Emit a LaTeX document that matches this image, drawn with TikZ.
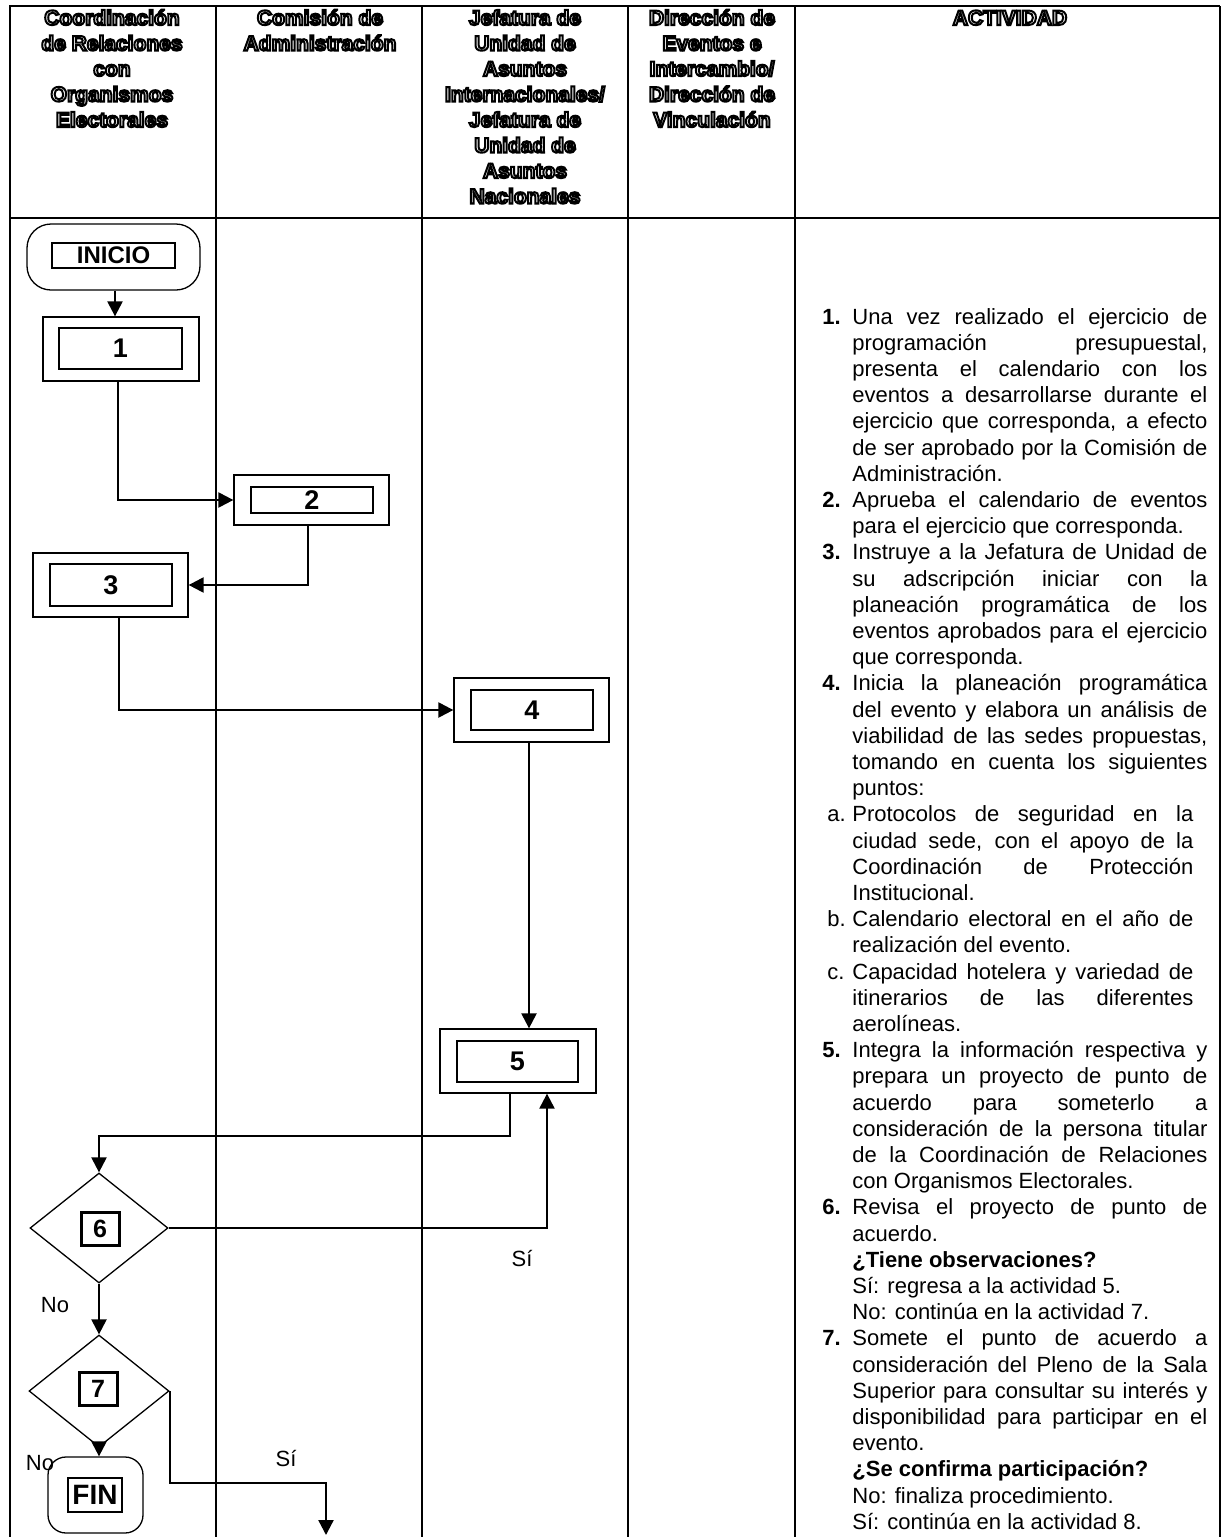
\documentclass[tikz,border=0pt]{standalone}
\usepackage{fontspec}
\setmainfont{Liberation Sans}
\usetikzlibrary{shapes.geometric,arrows.meta,calc}
\newlength\tw \setlength\tw{177.5pt}
\newlength\sw \setlength\sw{170.5pt}
\newlength\ind \setlength\ind{16pt}
\newcommand\lnN[2]{\makebox[\ind][l]{\hspace*{1pt}\textbf{#1}}\makebox[\tw][s]{#2}\par}
\newcommand\lnJ[1]{\hspace*{\ind}\makebox[\tw][s]{#1}\par}
\newcommand\lnL[1]{\hspace*{\ind}#1\par}
\newcommand\lnA[2]{\makebox[\ind][l]{\hspace*{3.5pt}#1}\makebox[\sw][s]{#2}\par}
\newcommand\lnS[1]{\hspace*{\ind}\makebox[\sw][s]{#1}\par}
\newcommand\lnB[1]{\hspace*{\ind}\textbf{#1}\par}
\newcommand\hc[1]{\leavevmode\special{pdf:literal direct 1 Tr 0 G 1.0 w}#1\special{pdf:literal direct 0 Tr}}
\begin{document}
\begin{tikzpicture}[x=0.5pt,y=-0.5pt,
  hdr/.style={anchor=base,inner sep=0pt,font=\fontsize{10.5}{12.75}\selectfont\bfseries},
  outerbox/.style={draw,line width=0.65pt,inner sep=0pt},
  innerbox/.style={draw,line width=1.4pt,inner sep=0pt,font=\fontsize{13.5}{13.5}\selectfont\bfseries},
  dec/.style={draw,diamond,line width=0.65pt,inner sep=0pt},
  decnum/.style={draw,line width=1.5pt,inner sep=0pt,minimum width=19pt,minimum height=16.5pt,font=\fontsize{12.5}{12.5}\selectfont\bfseries},
  term/.style={draw,line width=0.65pt,inner sep=0pt},
  arr/.style={line width=1.15pt,-{Triangle[length=7.5pt,width=7.5pt]}},
  lbl/.style={inner sep=0pt,font=\fontsize{11}{13}\selectfont},
  grid/.style={line width=0.8pt}]
\useasboundingbox (0,0) rectangle (1222,1537);
% table
\draw[line width=1.2pt] (9,6) -- (1220,6);
\draw[line width=1.2pt] (9,218) -- (1220,218);
\foreach \xx in {10,216,422,628,795,1220} \draw[grid] (\xx,6) -- (\xx,1537);
% headers
\node[hdr] (h0) at (112,25) {\parbox[t]{100pt}{\centering\fontsize{10.5}{12.75}\selectfont\bfseries
 \hc{Coordinación}\\\hc{de Relaciones}\\\hc{con}\\\hc{Organismos}\\\hc{Electorales}}};
\node[hdr] (h1) at (320,25) {\parbox[t]{100pt}{\centering\fontsize{10.5}{12.75}\selectfont\bfseries
 \hc{Comisión de}\\\hc{Administración}}};
\node[hdr] (h2) at (525,25) {\parbox[t]{100pt}{\centering\fontsize{10.5}{12.75}\selectfont\bfseries
 \hc{Jefatura de}\\\hc{Unidad de}\\\hc{Asuntos}\\\hc{Internacionales/}\\\hc{Jefatura de}\\\hc{Unidad de}\\\hc{Asuntos}\\\hc{Nacionales}}};
\node[hdr] (h3) at (712,25) {\parbox[t]{82pt}{\centering\fontsize{10.5}{12.75}\selectfont\bfseries
 \hc{Dirección de}\\\hc{Eventos e}\\\hc{Intercambio/}\\\hc{Dirección de}\\\hc{Vinculación}}};
\node[hdr] (h4) at (1010,25) {\hc{ACTIVIDAD}};
% activity text
\node[anchor=base west,inner sep=0pt] (act) at (820,324) {\parbox[t]{200pt}{\fontsize{11}{13.1}\selectfont\parindent=0pt\parskip=0pt
\lnN{1.}{Una vez realizado el ejercicio de}
\lnJ{programación presupuestal,}
\lnJ{presenta el calendario con los}
\lnJ{eventos a desarrollarse durante el}
\lnJ{ejercicio que corresponda, a efecto}
\lnJ{de ser aprobado por la Comisión de}
\lnL{Administración.}
\lnN{2.}{Aprueba el calendario de eventos}
\lnL{para el ejercicio que corresponda.}
\lnN{3.}{Instruye a la Jefatura de Unidad de}
\lnJ{su adscripción iniciar con la}
\lnJ{planeación programática de los}
\lnJ{eventos aprobados para el ejercicio}
\lnL{que corresponda.}
\lnN{4.}{Inicia la planeación programática}
\lnJ{del evento y elabora un análisis de}
\lnJ{viabilidad de las sedes propuestas,}
\lnJ{tomando en cuenta los siguientes}
\lnL{puntos:}
\lnA{a.}{Protocolos de seguridad en la}
\lnS{ciudad sede, con el apoyo de la}
\lnS{Coordinación de Protección}
\lnL{Institucional.}
\lnA{b.}{Calendario electoral en el año de}
\lnL{realización del evento.}
\lnA{c.}{Capacidad hotelera y variedad de}
\lnS{itinerarios de las diferentes}
\lnL{aerolíneas.}
\lnN{5.}{Integra la información respectiva y}
\lnJ{prepara un proyecto de punto de}
\lnJ{acuerdo para someterlo a}
\lnJ{consideración de la persona titular}
\lnJ{de la Coordinación de Relaciones}
\lnL{con Organismos Electorales.}
\lnN{6.}{Revisa el proyecto de punto de}
\lnL{acuerdo.}
\lnB{¿Tiene observaciones?}
\lnL{Sí: regresa a la actividad 5.}
\lnL{No: continúa en la actividad 7.}
\lnN{7.}{Somete el punto de acuerdo a}
\lnJ{consideración del Pleno de la Sala}
\lnJ{Superior para consultar su interés y}
\lnJ{disponibilidad para participar en el}
\lnL{evento.}
\lnB{¿Se confirma participación?}
\lnL{No: finaliza procedimiento.}
\lnL{Sí: continúa en la actividad 8.}
}};
% flowchart nodes
\node[term,rounded corners=12pt,minimum width=86.5pt,minimum height=33pt] (ini) at (113.5,257) {};
\node[innerbox,minimum width=61.5pt,minimum height=12.5pt,font=\fontsize{12}{12}\selectfont\bfseries] (inii) at (113.5,255.5) {INICIO};
\node[outerbox,minimum width=78pt,minimum height=32pt] (b1) at (121,349) {};
\node[innerbox,minimum width=61.5pt,minimum height=20.5pt] (b1i) at (120.5,348.5) {1};
\node[outerbox,minimum width=77.5pt,minimum height=25pt] (b2) at (311.5,500) {};
\node[innerbox,minimum width=61pt,minimum height=13pt] (b2i) at (312,500) {2};
\node[outerbox,minimum width=77.5pt,minimum height=32pt] (b3) at (110.5,585) {};
\node[innerbox,minimum width=61pt,minimum height=21pt] (b3i) at (111,585) {3};
\node[outerbox,minimum width=77.5pt,minimum height=32pt] (b4) at (531.5,710) {};
\node[innerbox,minimum width=61pt,minimum height=20pt] (b4i) at (532,710) {4};
\node[outerbox,minimum width=78pt,minimum height=32pt] (b5) at (518,1061) {};
\node[innerbox,minimum width=60.5pt,minimum height=20.5pt] (b5i) at (517.5,1061.5) {5};
\node[dec,minimum width=69pt,minimum height=55pt] (d6) at (99,1228) {};
\node[decnum] (d6n) at (100,1228.5) {6};
\node[dec,minimum width=70pt,minimum height=56pt] (d7) at (99,1391) {};
\node[decnum] (d7n) at (98,1389) {7};
\node[term,rounded corners=9pt,minimum width=47.5pt,minimum height=38pt] (fin) at (95.5,1495) {};
\node[innerbox,minimum width=27pt,minimum height=17pt,font=\fontsize{14}{14}\selectfont\bfseries] (fini) at (95,1495) {FIN};
% labels
\node[lbl] (si6) at (522,1258) {Sí};
\node[lbl] (no6) at (55,1305) {No};
\node[lbl] (no7) at (40,1463) {No};
\node[lbl] (si7) at (286,1458) {Sí};
% connectors
\coordinate (j5) at (99,1136);
\coordinate (k7) at (326,1483);
\coordinate (end8) at (326,1535);
\draw[arr] ([xshift=0.75pt]ini.south) -- ([xshift=0.75pt]ini.south |- b1.north);
\draw[arr] ([xshift=-1.5pt]b1.south) |- (b2.west);
\draw[arr] ([xshift=-1.75pt]b2.south) |- (b3.east);
\draw[arr] ([xshift=4.25pt]b3.south) |- (b4.west);
\draw[arr] ([xshift=-1.25pt]b4.south) -- ([xshift=-1.25pt]b4.south |- b5.north);
\draw[arr] ([xshift=-4pt]b5.south) |- (j5) -- (d6.north);
\draw[arr] (d6.east) -| ([xshift=14.5pt]b5.south);
\draw[arr] (d6.south) -- (d7.north);
\draw[arr] (d7.south) -- (d7.south |- fin.north);
\draw[arr] (d7.east) |- (k7) -- (end8);
\end{tikzpicture}
\end{document}
